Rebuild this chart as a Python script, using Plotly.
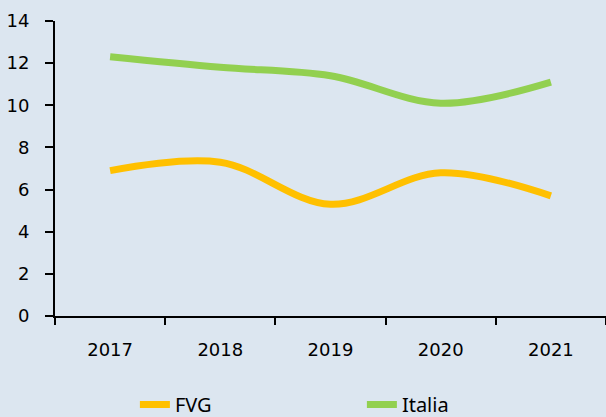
import plotly.graph_objects as go

years = ["2017", "2018", "2019", "2020", "2021"]
fvg = [6.9, 7.3, 5.3, 6.8, 5.7]
italia = [12.3, 11.8, 11.4, 10.1, 11.1]
y_ticks = [0, 2, 4, 6, 8, 10, 12, 14]

BG = "#dce6f0"

fig = go.Figure()
fig.add_trace(go.Scatter(x=years, y=fvg, name="FVG", mode="lines",
                         line=dict(color="#ffc000", width=7, shape="spline", smoothing=1)))
fig.add_trace(go.Scatter(x=years, y=italia, name="Italia", mode="lines",
                         line=dict(color="#92d050", width=7, shape="spline", smoothing=1)))

fig.update_layout(
    width=606, height=417,
    paper_bgcolor=BG, plot_bgcolor=BG,
    margin=dict(l=55, r=0, t=21, b=101, autoexpand=False),
    font=dict(family="DejaVu Sans", size=18, color="#000000"),
    showlegend=True,
    legend=dict(orientation="h", x=0.145, xanchor="left", y=-0.3, yanchor="middle",
                entrywidth=182, entrywidthmode="pixels",
                font=dict(family="Noto Sans", size=20, color="#000000"),
                bgcolor="rgba(0,0,0,0)"),
)
fig.update_xaxes(type="category", range=[-0.5, 4.5], showgrid=False, automargin=False,
                 showline=True, linecolor="#000000", linewidth=2,
                 ticks="outside", tickson="boundaries", ticklen=7, tickwidth=1.5,
                 tickcolor="#000000", ticklabelstandoff=16)
fig.update_yaxes(range=[0, 14], tickvals=y_ticks, showgrid=False, zeroline=False, automargin=False,
                 showline=True, linecolor="#000000", linewidth=2,
                 ticks="outside", ticklen=8, tickwidth=1.5, tickcolor="#000000",
                 ticklabelstandoff=12)

fig.write_html("out.html", config={"displayModeBar": False},
               post_script="document.body.style.margin='0';document.body.style.overflow='hidden';"
                           "document.body.style.background='" + BG + "';")
